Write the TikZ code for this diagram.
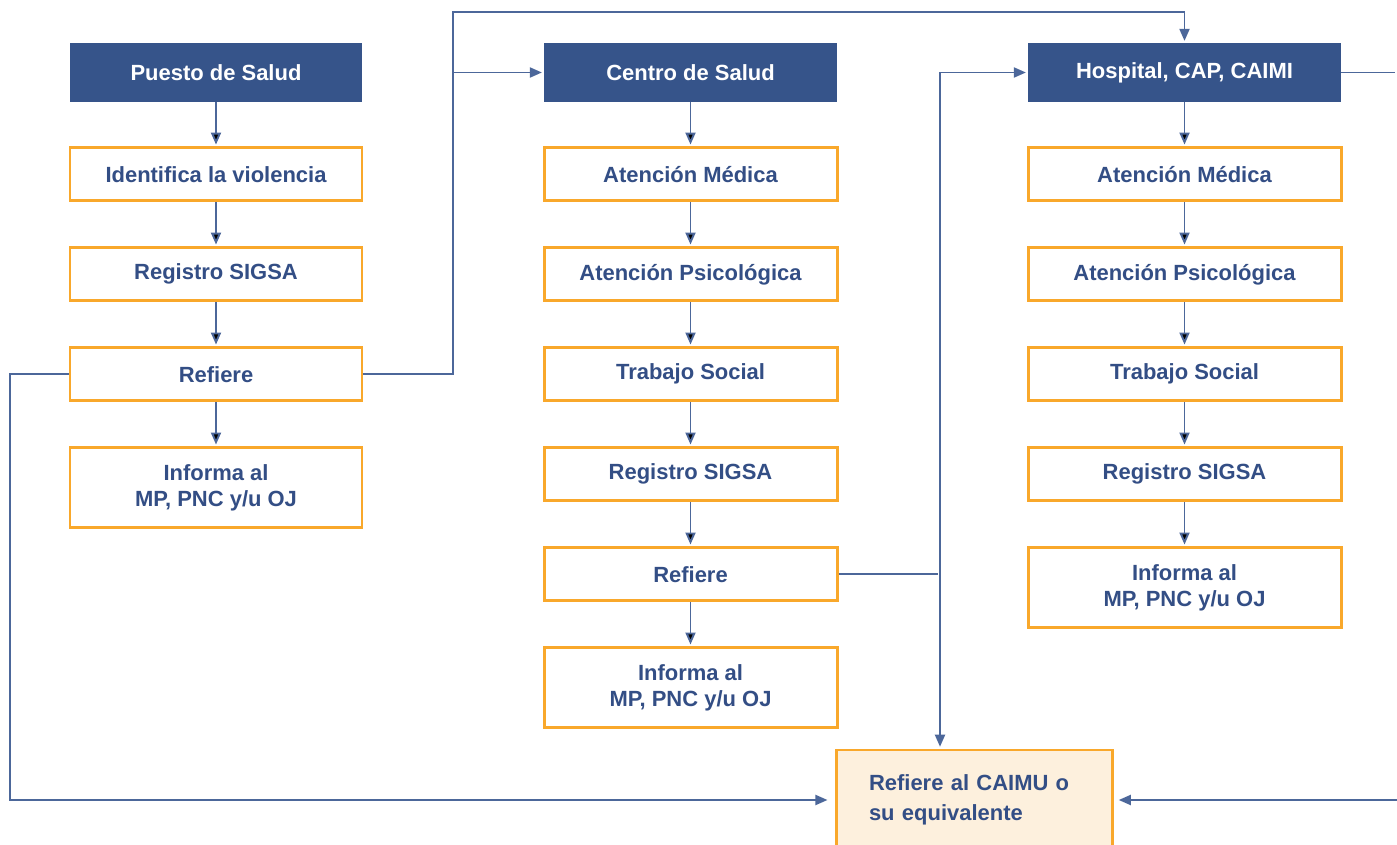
\documentclass[tikz,border=0pt]{standalone}
\usepackage{fontspec}
\setmainfont{Liberation Sans}
\usetikzlibrary{positioning,arrows.meta}
\definecolor{azul}{HTML}{36548A}
\definecolor{linea}{HTML}{4C679A}
\definecolor{naranja}{HTML}{F9A82B}
\definecolor{crema}{HTML}{FDF0DD}
\definecolor{texto}{HTML}{334E85}

\begin{document}
\begin{tikzpicture}[%
        ->,
        >={Triangle[length=2.4mm,width=2mm]},
        shorten >=1pt,
        node distance=0.88cm,
        cabeza/.style={%
          rectangle,
          fill=azul,
          text=white,
          minimum height=1.18cm,
          font=\bfseries\fontsize{12.5}{14}\selectfont
        },
        paso/.style={%
          rectangle,
          draw=naranja,
          line width=1.7pt,
          fill=white,
          text=texto,
          align=center,
          minimum height=1.06cm,
          font=\bfseries\fontsize{12.5}{15}\selectfont
        },
        doble/.style={paso, minimum height=1.6cm},
        flecha/.style={draw=linea, line width=1.1pt}
      ]
      \useasboundingbox (0,0) rectangle (27.94,-16.9);

      % Puesto de Salud
      \begin{scope}[every node/.append style={minimum width=5.84cm}]
      \node[cabeza] (p0) at (4.32,-1.45) {Puesto de Salud};
      \node[paso] (p1) [below=of p0] {Identifica la violencia};
      \node[paso] (p2) [below=of p1] {Registro SIGSA};
      \node[paso] (p3) [below=of p2] {Refiere};
      \node[doble] (p4) [below=of p3] {Informa al\\MP, PNC y/u OJ};
      \end{scope}

      % Centro de Salud
      \begin{scope}[every node/.append style={minimum width=5.86cm}]
      \node[cabeza] (c0) at (13.81,-1.45) {Centro de Salud};
      \node[paso] (c1) [below=of c0] {Atención Médica};
      \node[paso] (c2) [below=of c1] {Atención Psicológica};
      \node[paso] (c3) [below=of c2] {Trabajo Social};
      \node[paso] (c4) [below=of c3] {Registro SIGSA};
      \node[paso] (c5) [below=of c4] {Refiere};
      \node[doble] (c6) [below=of c5] {Informa al\\MP, PNC y/u OJ};
      \end{scope}

      % Hospital, CAP, CAIMI
      \begin{scope}[every node/.append style={minimum width=6.26cm}]
      \node[cabeza] (h0) at (23.69,-1.45) {Hospital, CAP, CAIMI};
      \node[paso] (h1) [below=of h0] {Atención Médica};
      \node[paso] (h2) [below=of h1] {Atención Psicológica};
      \node[paso] (h3) [below=of h2] {Trabajo Social};
      \node[paso] (h4) [below=of h3] {Registro SIGSA};
      \node[doble] (h5) [below=of h4] {Informa al\\MP, PNC y/u OJ};
      \end{scope}

      \node[paso, fill=crema, minimum height=2cm, text width=4.2cm,
            inner xsep=0.66cm, align=left,
            font=\bfseries\fontsize{12.5}{17}\selectfont] (caimu) at (19.48,-16)
            {Refiere al CAIMU o\\su equivalente};

      \path[flecha] (p0) edge (p1) (p1) edge (p2) (p2) edge (p3) (p3) edge (p4);
      \path[flecha] (c0) edge (c1) (c1) edge (c2) (c2) edge (c3)
                    (c3) edge (c4) (c4) edge (c5) (c5) edge (c6);
      \path[flecha] (h0) edge (h1) (h1) edge (h2) (h2) edge (h3)
                    (h3) edge (h4) (h4) edge (h5);

      \coordinate (sube) at (9.06,-0.24);
      \coordinate (izq) at (0.2,-16);
      \coordinate (medio) at (18.8,-1.45);
      \coordinate (der) at (27.94,-16);

      \draw[flecha] (p3.east) -| (sube) -| (h0.north);
      \draw[flecha] (sube |- c0.west) -- (c0.west);
      \draw[flecha, shorten >=4pt] (p3.west) -| (izq) -- (caimu.west);
      \draw[flecha, -] (c5.east) -- (c5.east -| medio);
      \draw[flecha] (medio) -- (h0.west);
      \draw[flecha] (medio) -- (medio |- caimu.north);
      \draw[flecha, -] (h0.east) -- (h0.east -| der);
      \draw[flecha, shorten >=3pt] (der) -- (caimu.east);
  \end{tikzpicture}
\end{document}
